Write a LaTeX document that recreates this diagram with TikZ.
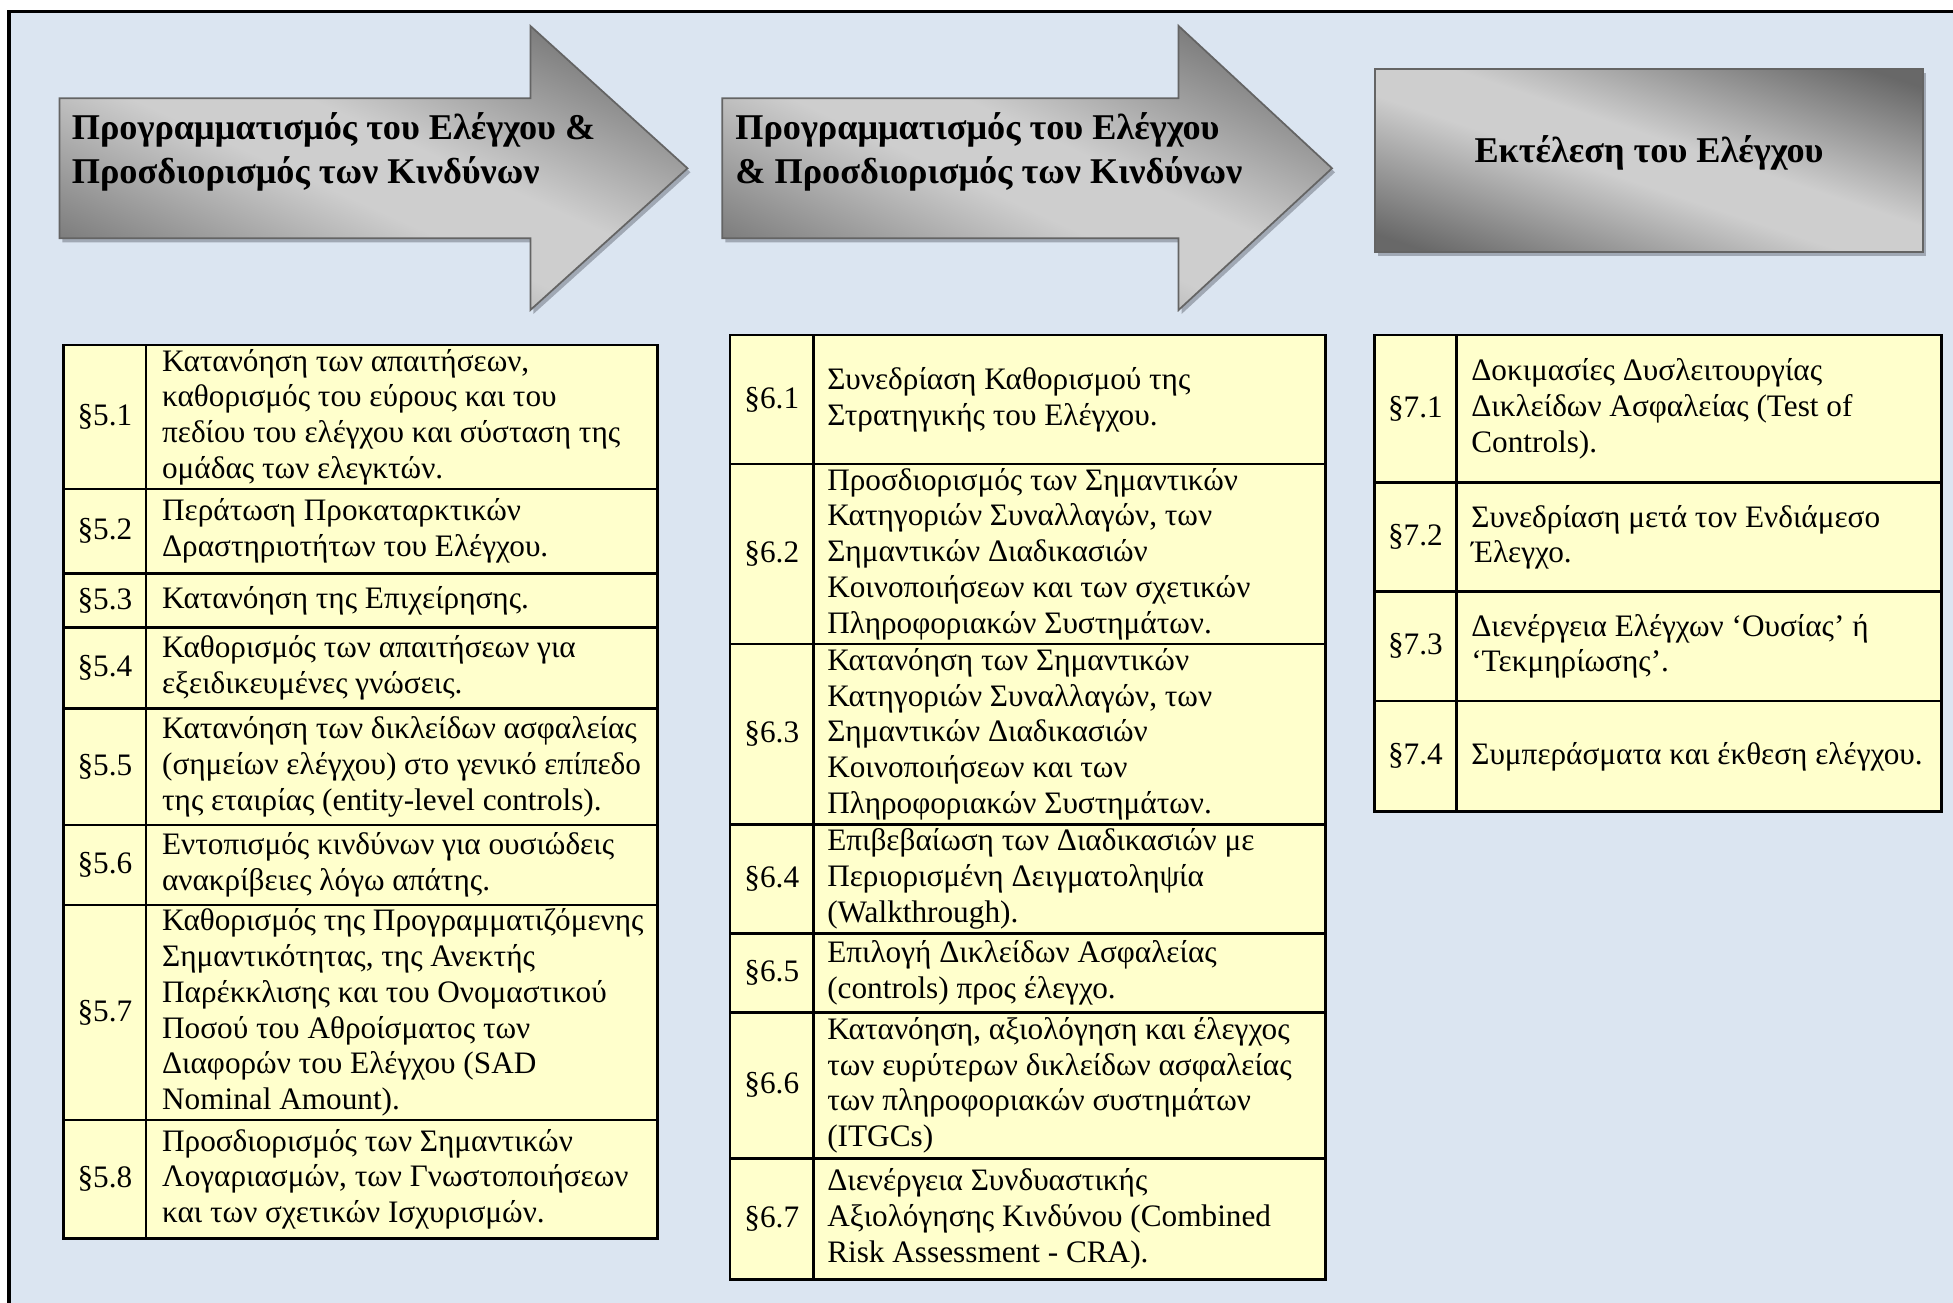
\documentclass[tikz,border=0pt]{standalone}
\usepackage{fontspec}
\setmainfont{Liberation Serif}
\definecolor{panelblue}{RGB}{219,229,241}
\definecolor{cellyellow}{RGB}{255,255,204}
\definecolor{shadowgray}{RGB}{160,168,180}
\definecolor{shapeedge}{RGB}{100,100,100}
\definecolor{gradedark}{RGB}{104,104,104}
\definecolor{gradelight}{RGB}{206,206,206}

% diagonal metal-like fill for the stage shapes
\pgfdeclareverticalshading{stagegrad}{100bp}{%
  color(0bp)=(gradedark); color(18bp)=(gradedark);
  color(45bp)=(gradelight); color(55bp)=(gradelight);
  color(82bp)=(gradedark); color(100bp)=(gradedark)}

% one table row: label cell + description cell
\newcommand\secrow[5]{%
  \draw[cell] (\colL,#2) rectangle (\colM,#3);
  \draw[cell] (\colM,#2) rectangle (\colR,#3);
  \node[num]  (#1n) at ({(\colL+\colM)/2},{(#2+#3)/2}) {#4};
  \node[body] (#1t) at (\txtX,{(#2+#3)/2}) {#5};
}

\begin{document}
\begin{tikzpicture}[x=0.4pt,y=-0.4pt,
  heading/.style={font=\fontsize{14.5}{17.3}\selectfont\bfseries, align=left, inner sep=0pt},
  stageline/.style={draw=shapeedge, line width=0.7pt, line join=miter},
  stageshadow/.style={fill=shadowgray},
  % outline of a stage arrow: body left, head base, tip
  arrowpath/.style n args={3}{insert path={(#1,98.3) -- (#2,98.3) -- (#2,26) -- (#3,168.3)
    -- (#2,310) -- (#2,238.3) -- (#1,238.3) -- cycle}},
  % the same arrow squeezed into a 284-wide square and stretched back on the canvas,
  % so that the diagonal shading follows the diagonals of its bounding box
  arrowfill/.style n args={3}{transform canvas={shift={(#1,0)}, xscale={(#3-#1)/284}},
    shading=stagegrad, shading angle=-45,
    insert path={(0,98.3) -- ({(#2-#1)/(#3-#1)*284},98.3) -- ({(#2-#1)/(#3-#1)*284},26)
    -- (284,168.3) -- ({(#2-#1)/(#3-#1)*284},310) -- ({(#2-#1)/(#3-#1)*284},238.3)
    -- (0,238.3) -- cycle}},
  cell/.style={draw=black, line width=1.1pt, fill=cellyellow},
  body/.style={font=\fontsize{12.5}{14.3}\selectfont, align=left, inner sep=0pt, anchor=west},
  num/.style={font=\fontsize{12.5}{14.3}\selectfont, inner sep=0pt},
]
\useasboundingbox (0,0) rectangle (1953,1303);
\fill[white] (0,0) rectangle (1953,1303);

% panel
\fill[panelblue] (9,11.7) rectangle (1953,1303);
\draw[line width=1.4pt, line join=miter] (9,1303) -- (9,11.7) -- (1953,11.7);

% stage 1 arrow
\fill[stageshadow, shift={(3,4)}, arrowpath={59.4}{530.4}{687.5}];
\shade[arrowfill={59.4}{530.4}{687.5}];
\draw[stageline, arrowpath={59.4}{530.4}{687.5}];
\node[heading, anchor=west] (stageA) at (71.4,152)
  {Προγραμματισμός του Ελέγχου \&\\Προσδιορισμός των Κινδύνων};

% stage 2 arrow
\fill[stageshadow, shift={(3,4)}, arrowpath={722.3}{1178.6}{1332}];
\shade[arrowfill={722.3}{1178.6}{1332}];
\draw[stageline, arrowpath={722.3}{1178.6}{1332}];
\node[heading, anchor=west] (stageB) at (734.8,152)
  {Προγραμματισμός του Ελέγχου\\\& Προσδιορισμός των Κινδύνων};

% stage 3 box
\fill[stageshadow] (1378,73.3) rectangle (1926,256.3);
\shade[transform canvas={shift={(1375,0)}, xscale={548/183}},
  shading=stagegrad, shading angle=-45] (0,69.3) rectangle (183,252.3);
\draw[stageline] (1375,69.3) rectangle (1923,252.3);
\node[heading, anchor=base] (stageC) at (1649,163) {Εκτέλεση του Ελέγχου};

% table of section 5
\def\colL{63.8}\def\colM{146}\def\colR{657.6}\def\txtX{161.6}
\secrow{s51}{345}{489}{§5.1}{Κατανόηση των απαιτήσεων,\\καθορισμός του εύρους και του\\πεδίου του ελέγχου και σύσταση της\\ομάδας των ελεγκτών.}
\secrow{s52}{489}{573.3}{§5.2}{Περάτωση Προκαταρκτικών\\Δραστηριοτήτων του Ελέγχου.}
\secrow{s53}{573.3}{627.7}{§5.3}{Κατανόηση της Επιχείρησης.}
\secrow{s54}{627.7}{708.3}{§5.4}{Καθορισμός των απαιτήσεων για\\εξειδικευμένες γνώσεις.}
\secrow{s55}{708.3}{825}{§5.5}{Κατανόηση των δικλείδων ασφαλείας\\(σημείων ελέγχου) στο γενικό επίπεδο\\της εταιρίας (entity-level controls).}
\secrow{s56}{825}{905}{§5.6}{Εντοπισμός κινδύνων για ουσιώδεις\\ανακρίβειες λόγω απάτης.}
\secrow{s57}{905}{1120}{§5.7}{Καθορισμός της Προγραμματιζόμενης\\Σημαντικότητας, της Ανεκτής\\Παρέκκλισης και του Ονομαστικού\\Ποσού του Αθροίσματος των\\Διαφορών του Ελέγχου (SAD\\Nominal Amount).}
\secrow{s58}{1120}{1238.3}{§5.8}{Προσδιορισμός των Σημαντικών\\Λογαριασμών, των Γνωστοποιήσεων\\και των σχετικών Ισχυρισμών.}

% table of section 6
\def\colL{729.9}\def\colM{813.7}\def\colR{1325.8}\def\txtX{826.8}
\secrow{s61}{335}{464}{§6.1}{Συνεδρίαση Καθορισμού της\\Στρατηγικής του Ελέγχου.}
\secrow{s62}{464}{644}{§6.2}{Προσδιορισμός των Σημαντικών\\Κατηγοριών Συναλλαγών, των\\Σημαντικών Διαδικασιών\\Κοινοποιήσεων και των σχετικών\\Πληροφοριακών Συστημάτων.}
\secrow{s63}{644}{824.3}{§6.3}{Κατανόηση των Σημαντικών\\Κατηγοριών Συναλλαγών, των\\Σημαντικών Διαδικασιών\\Κοινοποιήσεων και των\\Πληροφοριακών Συστημάτων.}
\secrow{s64}{824.3}{933.3}{§6.4}{Επιβεβαίωση των Διαδικασιών με\\Περιορισμένη Δειγματοληψία\\(Walkthrough).}
\secrow{s65}{933.3}{1012.3}{§6.5}{Επιλογή Δικλείδων Ασφαλείας\\(controls) προς έλεγχο.}
\secrow{s66}{1012.3}{1158.3}{§6.6}{Κατανόηση, αξιολόγηση και έλεγχος\\των ευρύτερων δικλείδων ασφαλείας\\των πληροφοριακών συστημάτων\\(ITGCs)}
\secrow{s67}{1158.3}{1279.3}{§6.7}{Διενέργεια Συνδυαστικής\\Αξιολόγησης Κινδύνου (Combined\\Risk Assessment - CRA).}

% table of section 7
\def\colL{1374.4}\def\colM{1456.4}\def\colR{1941.3}\def\txtX{1470.8}
\secrow{s71}{335}{482.7}{§7.1}{Δοκιμασίες Δυσλειτουργίας\\Δικλείδων Ασφαλείας (Test of\\Controls).}
\secrow{s72}{482.7}{591.7}{§7.2}{Συνεδρίαση μετά τον Ενδιάμεσο\\Έλεγχο.}
\secrow{s73}{591.7}{701}{§7.3}{Διενέργεια Ελέγχων ‘Ουσίας’ ή\\‘Τεκμηρίωσης’.}
\secrow{s74}{701}{811.7}{§7.4}{Συμπεράσματα και έκθεση ελέγχου.}
\end{tikzpicture}
\end{document}
